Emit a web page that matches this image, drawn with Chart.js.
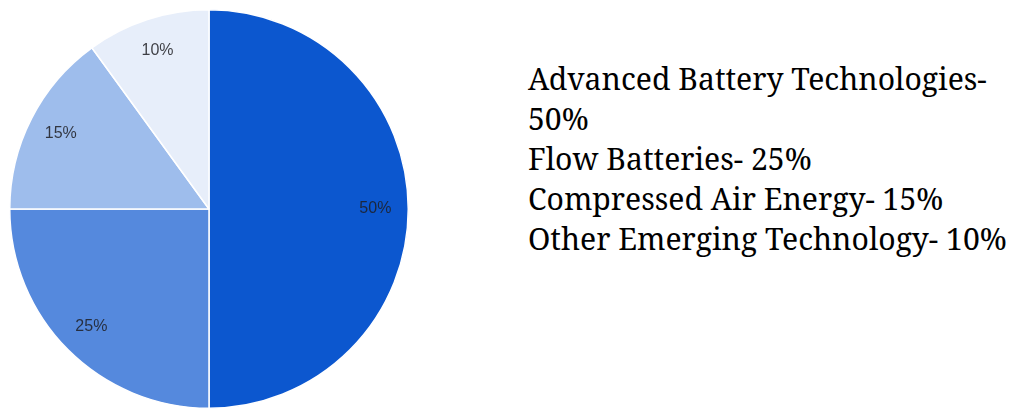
<!DOCTYPE html>
<html>
<head>
<meta charset="utf-8">
<script src="https://cdn.jsdelivr.net/npm/chart.js@4"></script>
<style>
  html, body { margin: 0; padding: 0; background: #fff; width: 1016px; height: 410px; overflow: hidden; }
  #wrap { position: absolute; left: 0; top: 0; width: 420px; height: 410px; }
  #legend { position: absolute; left: 528px; top: 59px; font-family: "Noto Serif", "DejaVu Serif", serif; font-size: 27px; line-height: 40px; color: #000; white-space: nowrap; }
  #legend div { height: 40px; }
</style>
</head>
<body>
<div id="wrap"><canvas id="c" width="420" height="410"></canvas></div>
<div id="legend"></div>
<script>
const categories = ["Advanced Battery Technologies", "Flow Batteries", "Compressed Air Energy", "Other Emerging Technology"];
const shares = [50, 25, 15, 10];
const sliceColors = ["#0c57cf", "#5589dd", "#9ebdec", "#e7eefa"];
const legendLines = ["Advanced Battery Technologies-", "50%", "Flow Batteries- 25%", "Compressed Air Energy- 15%", "Other Emerging Technology- 10%"];

const legendEl = document.getElementById('legend');
legendLines.forEach(t => { const d = document.createElement('div'); d.textContent = t; legendEl.appendChild(d); });
// fit the legend so its widest line spans about 479px, as in the reference
(function fitLegend() {
  const m = document.createElement('canvas').getContext('2d');
  m.font = '100px "Noto Serif"';
  const w = Math.max(...legendLines.map(t => m.measureText(t).width));
  legendEl.style.fontSize = (100 * 479 / w).toFixed(2) + 'px';
})();

const sliceLabels = {
  id: 'sliceLabels',
  afterDatasetsDraw(chart) {
    const ctx = chart.ctx;
    const meta = chart.getDatasetMeta(0);
    const data = chart.data.datasets[0].data;
    const total = data.reduce((a, b) => a + b, 0);
    ctx.save();
    ctx.font = '16px "Liberation Sans", Arial, sans-serif';
    ctx.fillStyle = 'rgba(30,30,35,0.85)';
    ctx.textAlign = 'center';
    ctx.textBaseline = 'middle';
    meta.data.forEach((arc, i) => {
      const p = arc.getProps(['x', 'y', 'startAngle', 'endAngle', 'outerRadius'], true);
      const mid = (p.startAngle + p.endAngle) / 2;
      const r = p.outerRadius * 0.835;
      ctx.fillText(Math.round(data[i] / total * 100) + '%', p.x + Math.cos(mid) * r, p.y + Math.sin(mid) * r);
    });
    ctx.restore();
  }
};

new Chart(document.getElementById('c'), {
  type: 'pie',
  data: {
    labels: categories,
    datasets: [{ data: shares, backgroundColor: sliceColors, borderColor: '#ffffff', borderWidth: 1.5 }]
  },
  options: {
    responsive: false,
    animation: false,
    layout: { padding: { left: 9, top: 9, right: 11, bottom: 1 } },
    plugins: { legend: { display: false }, tooltip: { enabled: false } }
  },
  plugins: [sliceLabels]
});
</script>
</body>
</html>
